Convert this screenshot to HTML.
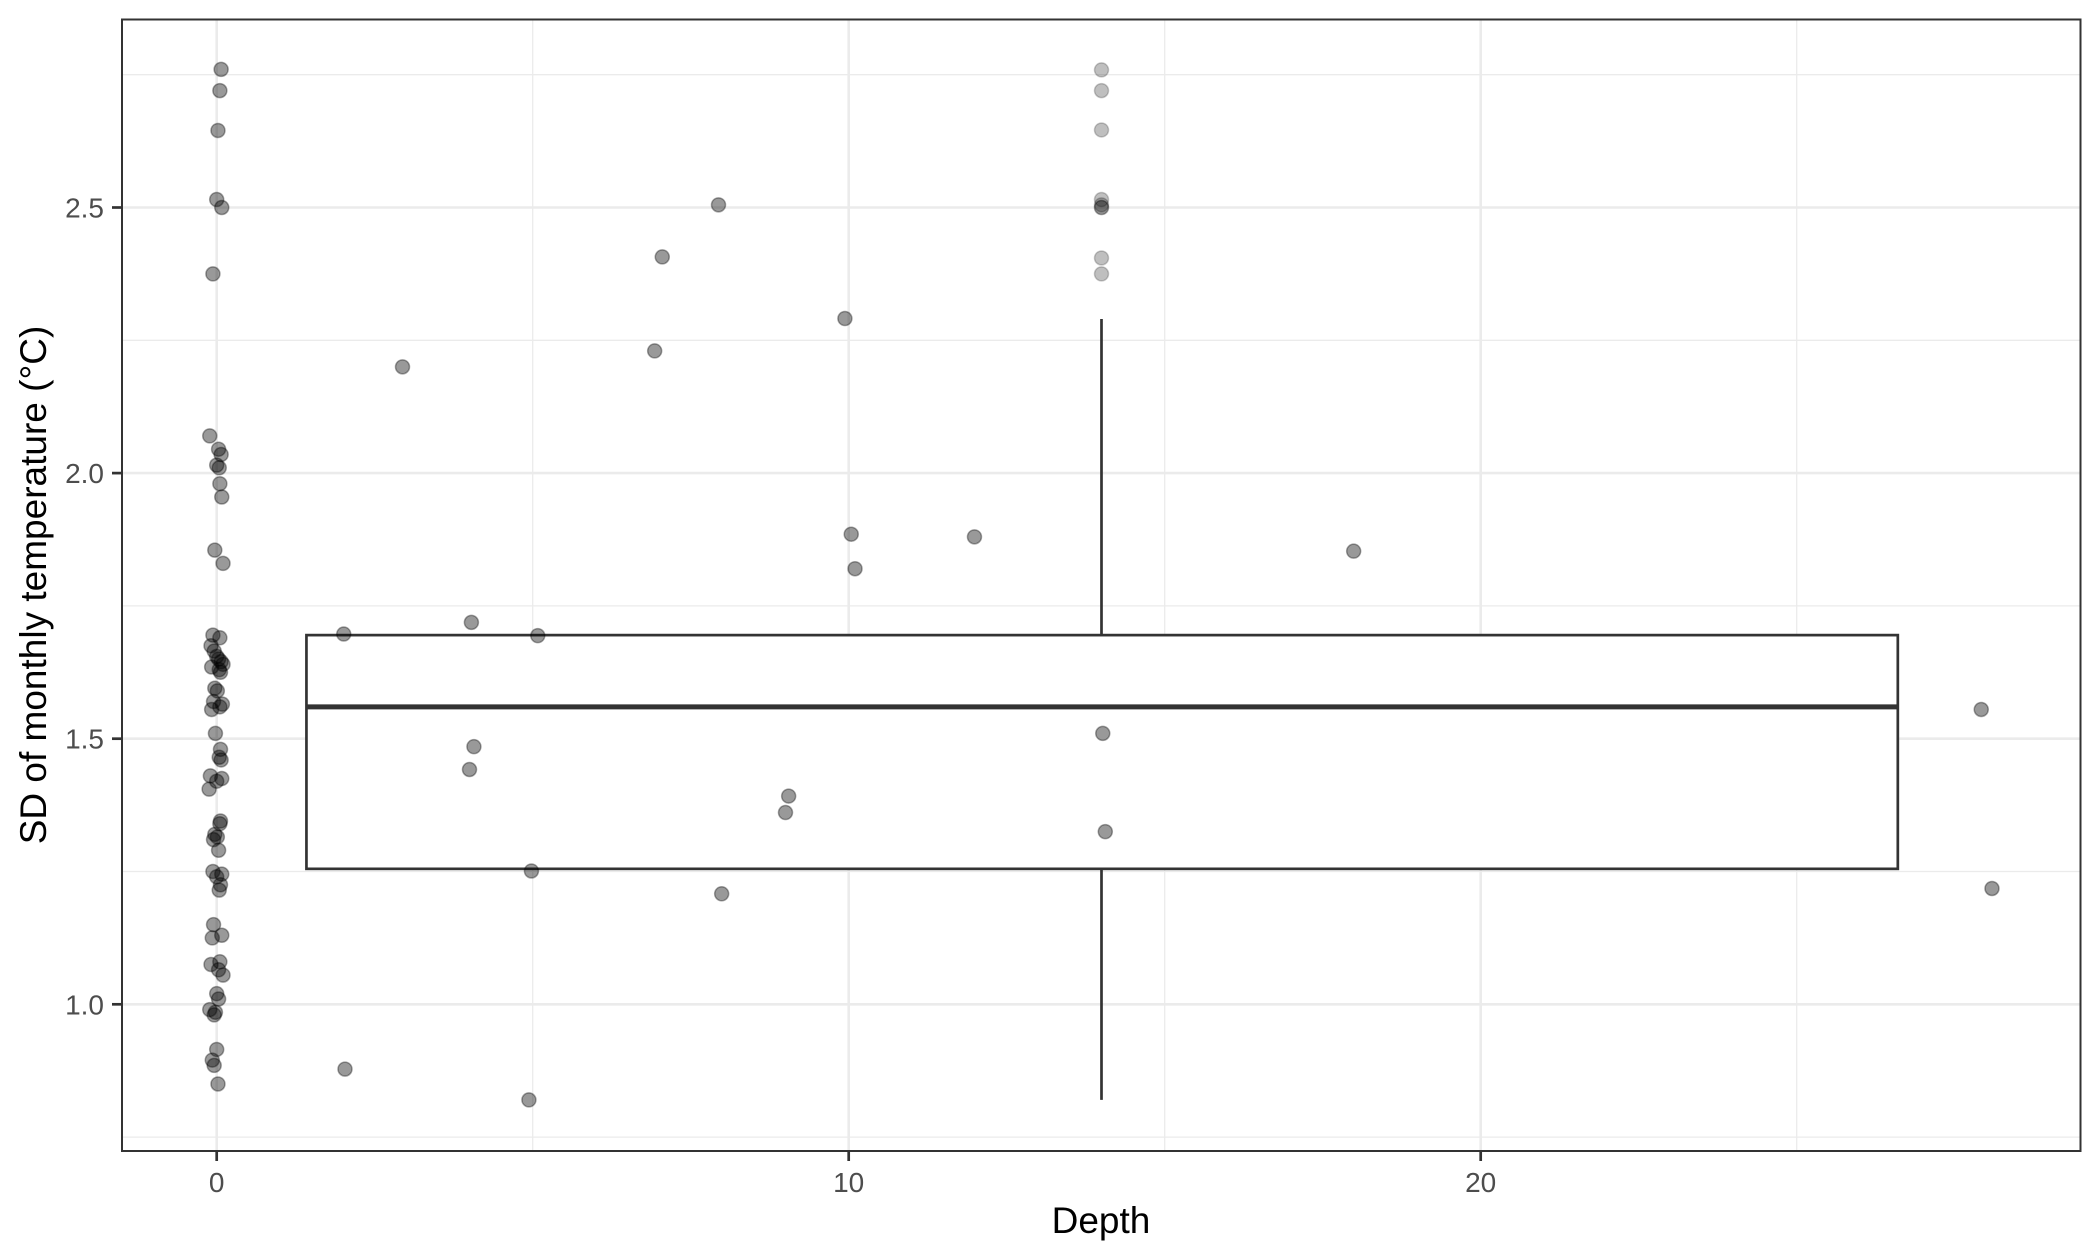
<!DOCTYPE html>
<html><head><meta charset="utf-8"><style>
html,body{margin:0;padding:0;background:#fff;}
svg{display:block;font-family:"Liberation Sans",Arial,sans-serif;}
</style></head><body>
<svg id="chart" width="2100" height="1260" viewBox="0 0 2100 1260" xmlns="http://www.w3.org/2000/svg">
<g id="grid"></g>
<g id="box"></g>
<g id="pts"></g>
<rect x="122" y="19.5" width="1958.5" height="1131.5" fill="none" stroke="#333" stroke-width="2"/>
<g id="axes"></g>
<text x="1101" y="1233" font-size="37" text-anchor="middle" fill="#000">Depth</text>
<text transform="translate(46,585) rotate(-90)" font-size="37" text-anchor="middle" fill="#000">SD of monthly temperature (°C)</text>
</svg>
<script>
const xMajorTicks = [0, 10, 20];
const xMinorTicks = [5, 15, 25];
const yMajorTicks = [1.0, 1.5, 2.0, 2.5];
const yTickLabels = ["1.0", "1.5", "2.0", "2.5"];
const yMinorTicks = [0.75, 1.25, 1.75, 2.25, 2.75];
const boxStats = {xmin: 1.42, xmax: 26.6, whiskerX: 14, q1: 1.255, median: 1.56, q3: 1.695, lower: 0.82, upper: 2.29};
const outlierValues = [2.759, 2.72, 2.646, 2.515, 2.505, 2.405, 2.375];
const pointDepths = [
0.07,0.05,0.02,0.0,0.08,-0.06,-0.11,0.03,0.07,0.0,0.04,0.05,0.08,-0.03,0.1,
-0.06,0.05,-0.09,-0.04,0.0,0.03,0.07,0.1,-0.08,0.04,0.06,-0.03,0.01,-0.05,0.09,
0.05,-0.08,-0.02,0.06,0.04,0.07,-0.1,0.08,0.0,-0.12,0.06,0.05,-0.03,0.01,-0.05,0.03,
-0.06,0.08,0.0,0.06,0.04,-0.05,-0.07,0.08,0.05,-0.09,0.03,0.1,0.0,0.03,-0.11,-0.02,
-0.04,0.0,-0.07,-0.04,0.02,
2.94,2.01,2.03,4.03,4.07,4.0,5.08,4.98,4.94,7.05,6.93,7.94,7.99,9.05,9.0,9.94,10.04,10.1,11.99,
14.0,14.02,14.06,17.99,27.92,28.09];
const pointValues = [
2.76,2.72,2.645,2.515,2.50,2.375,2.07,2.045,2.035,2.015,2.01,1.98,1.955,1.855,1.83,
1.695,1.69,1.675,1.665,1.655,1.65,1.645,1.64,1.635,1.63,1.625,1.595,1.59,1.57,1.565,
1.56,1.555,1.51,1.48,1.465,1.46,1.43,1.425,1.42,1.405,1.345,1.34,1.32,1.315,1.31,1.29,
1.25,1.245,1.24,1.225,1.215,1.15,1.125,1.13,1.08,1.075,1.065,1.055,1.02,1.01,0.99,0.985,
0.98,0.915,0.895,0.885,0.85,
2.20,1.697,0.878,1.719,1.485,1.442,1.694,1.251,0.82,2.407,2.23,2.505,1.208,1.392,1.361,2.291,1.885,1.82,1.88,
2.50,1.51,1.325,1.853,1.555,1.218];

const NS = "http://www.w3.org/2000/svg";
const X0 = 216.7, XS = 63.2, Y0 = 207.5, YS = 531.2;
const xs = d => X0 + d * XS;
const ys = v => Y0 - (v - 2.5) * YS;
const L = 122, R = 2080.5, T = 19.5, B = 1151;
function mk(tag, attrs, parent) {
  const e = document.createElementNS(NS, tag);
  for (const k in attrs) e.setAttribute(k, attrs[k]);
  parent.appendChild(e); return e;
}
const grid = document.getElementById('grid');
xMinorTicks.forEach(t => { const e = mk('line', {x1: xs(t), x2: xs(t), y1: T, y2: B, stroke: '#ebebeb', 'stroke-width': 1.3}, grid);
    });
yMinorTicks.forEach(t => { const e = mk('line', {x1: L, x2: R, y1: ys(t), y2: ys(t), stroke: '#ebebeb', 'stroke-width': 1.3}, grid);
    });
xMajorTicks.forEach(t => { const e = mk('line', {x1: xs(t), x2: xs(t), y1: T, y2: B, stroke: '#ebebeb', 'stroke-width': 2.6}, grid);
    });
yMajorTicks.forEach(t => { const e = mk('line', {x1: L, x2: R, y1: ys(t), y2: ys(t), stroke: '#ebebeb', 'stroke-width': 2.6}, grid);
    });

const box = document.getElementById('box');
let e;
e = mk('line', {x1: xs(boxStats.whiskerX), x2: xs(boxStats.whiskerX), y1: ys(boxStats.upper), y2: ys(boxStats.q3), stroke: '#333', 'stroke-width': 2.7}, box);
 
e = mk('line', {x1: xs(boxStats.whiskerX), x2: xs(boxStats.whiskerX), y1: ys(boxStats.q1), y2: ys(boxStats.lower), stroke: '#333', 'stroke-width': 2.7}, box);
 
e = mk('rect', {x: xs(boxStats.xmin), y: ys(boxStats.q3), width: xs(boxStats.xmax) - xs(boxStats.xmin), height: ys(boxStats.q1) - ys(boxStats.q3), fill: '#fff', stroke: '#333', 'stroke-width': 2.7}, box);
 
e = mk('line', {x1: xs(boxStats.xmin), x2: xs(boxStats.xmax), y1: ys(boxStats.median), y2: ys(boxStats.median), stroke: '#333', 'stroke-width': 5}, box);
 
outlierValues.forEach(v => {
  const c = mk('circle', {cx: xs(boxStats.whiskerX), cy: ys(v), r: 7, fill: 'rgba(0,0,0,0.25)', stroke: 'rgba(0,0,0,0.2)', 'stroke-width': 1.5}, box);
  
  
});

const pts = document.getElementById('pts');
pointValues.forEach((v, i) => {
  const c = mk('circle', {cx: xs(pointDepths[i]), cy: ys(v), r: 7, fill: 'rgba(0,0,0,0.4)', stroke: 'rgba(0,0,0,0.35)', 'stroke-width': 1.5}, pts);
  
  
});

const axes = document.getElementById('axes');
xMajorTicks.forEach(t => {
  const l = mk('line', {x1: xs(t), x2: xs(t), y1: B, y2: B + 10, stroke: '#333', 'stroke-width': 2.7}, axes);
   
  const tx = mk('text', {x: xs(t), y: 1192, 'font-size': 28, 'text-anchor': 'middle', fill: '#4d4d4d'}, axes);
  tx.textContent = String(t);
   
});
yMajorTicks.forEach((t, i) => {
  const l = mk('line', {x1: L - 10, x2: L, y1: ys(t), y2: ys(t), stroke: '#333', 'stroke-width': 2.7}, axes);
   
  const tx = mk('text', {x: 104, y: ys(t) + 10, 'font-size': 28, 'text-anchor': 'end', fill: '#4d4d4d'}, axes);
  tx.textContent = yTickLabels[i];
   
});
</script>
</body></html>
